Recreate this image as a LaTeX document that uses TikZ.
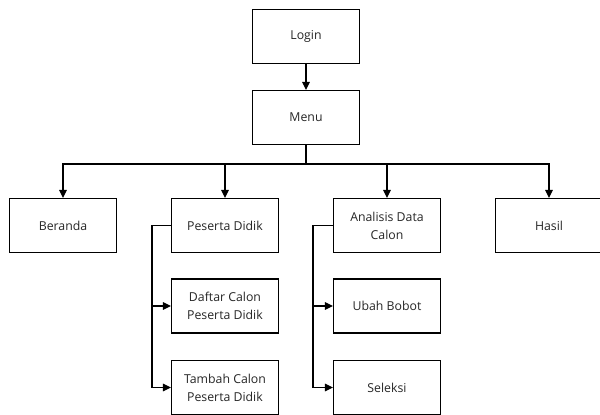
\documentclass[tikz,border=0pt]{standalone}
\usepackage{fontspec}
\setmainfont{Open Sans}
\usetikzlibrary{arrows.meta}
\begin{document}
\begin{tikzpicture}[x=1pt,y=-1pt,
  box/.style={draw, line width=1.1pt, minimum width=107pt, minimum height=54pt,
    inner sep=2pt, align=center, text=black!85,
    font=\fontsize{12.3}{18}\selectfont},
  wire/.style={line width=1.1pt},
  link/.style={wire, -{Triangle[length=8pt,width=7.5pt]}}]
\useasboundingbox[fill=white] (0,0) rectangle (600,415);

% top of the menu tree
\node[box] (login) at (306,36.5) {Login};
\node[box] (menu)  at (306,117.5) {Menu};

% main menu entries
\node[box] (beranda)  at (63,225.5)  {Beranda};
\node[box] (peserta)  at (225,225.5) {Peserta Didik};
\node[box] (analisis) at (387,225.5) {Analisis Data\\Calon};
\node[box] (hasil)    at (549,225.5) {Hasil};

% sub entries
\node[box] (daftar) at (225,306)   {Daftar Calon\\Peserta Didik};
\node[box] (tambah) at (225,387.5) {Tambah Calon\\Peserta Didik};
\node[box] (ubah)   at (387,306)   {Ubah Bobot};
\node[box] (seleksi) at (387,387.5) {Seleksi};

% connectors
\draw[link] (login) -- (menu);
\coordinate (bus) at (306,164);
\draw[wire] (menu.south) -- (bus);
\draw[wire] (beranda.north |- bus) -- (hasil.north |- bus);
\draw[link] (bus) -| (beranda.north);
\draw[link] (bus) -| (peserta.north);
\draw[link] (bus) -| (analisis.north);
\draw[link] (bus) -| (hasil.north);

\draw[link] (peserta.west) -- ++(-19,0) |- (daftar.west);
\draw[link] (peserta.west) -- ++(-19,0) |- (tambah.west);
\draw[link] (analisis.west) -- ++(-20,0) |- (ubah.west);
\draw[link] (analisis.west) -- ++(-20,0) |- (seleksi.west);
\end{tikzpicture}
\end{document}
